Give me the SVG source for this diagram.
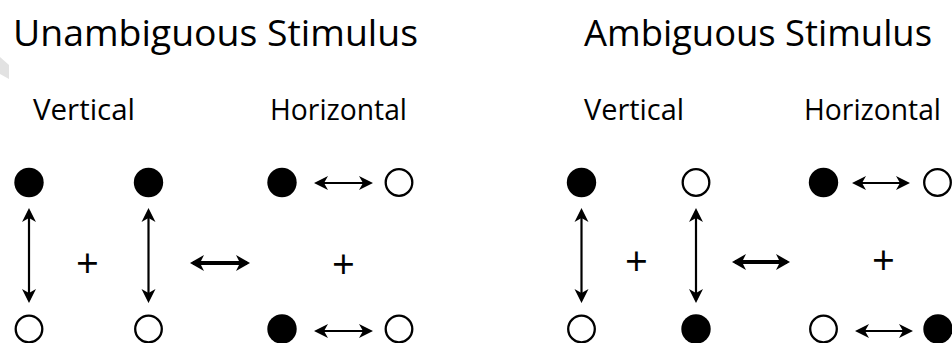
<svg xmlns="http://www.w3.org/2000/svg" width="952" height="343" viewBox="0 0 952 343">
  <style>
    text { font-variant-ligatures: none; font-feature-settings: "liga" 0; }
    .title { font-family: "Open Sans", "Noto Sans", sans-serif; font-size: 37px; fill: #000; }
    .label { font-family: "Open Sans", "Noto Sans", sans-serif; font-size: 30px; fill: #000; }
    .plus { font-family: "Open Sans", "Noto Sans", sans-serif; font-size: 40px; fill: #000; text-anchor: middle; }
    .on { fill: #000; }
    .off { fill: #fff; stroke: #000; stroke-width: 2.3; }
    .thin { stroke: #000; stroke-width: 2.2; fill: none; marker-start: url(#headThin); marker-end: url(#headThin); }
    .bold { stroke: #000; stroke-width: 4; fill: none; marker-start: url(#headBold); marker-end: url(#headBold); }
  </style>
  <defs>
    <marker id="headThin" markerUnits="userSpaceOnUse" markerWidth="30" markerHeight="30" viewBox="-15 -15 30 30" refX="0" refY="0" orient="auto-start-reverse" overflow="visible">
      <path d="M3,0 L-11,-7 L-7,0 L-11,7 Z" fill="#000"/>
    </marker>
    <marker id="headBold" markerUnits="userSpaceOnUse" markerWidth="30" markerHeight="30" viewBox="-15 -15 30 30" refX="0" refY="0" orient="auto-start-reverse" overflow="visible">
      <path d="M3,0 L-11,-8 L-7,0 L-11,8 Z" fill="#000"/>
    </marker>
  </defs>

  <rect width="952" height="343" fill="#fff"/>
  <!-- faint grey sliver at the left edge -->
  <polygon points="0,57 9,65 9,79 0,74" fill="#e2e2e2"/>

  <!-- headings -->
  <text class="title" x="13" y="46" textLength="405" lengthAdjust="spacingAndGlyphs">Unambiguous Stimulus</text>
  <text class="title" x="584" y="46" textLength="348" lengthAdjust="spacingAndGlyphs">Ambiguous Stimulus</text>
  <text class="label" x="33" y="120" textLength="102" lengthAdjust="spacingAndGlyphs">Vertical</text>
  <text class="label" x="270" y="120" textLength="137" lengthAdjust="spacingAndGlyphs">Horizontal</text>
  <text class="label" x="584" y="120" textLength="100" lengthAdjust="spacingAndGlyphs">Vertical</text>
  <text class="label" x="804" y="120" textLength="137" lengthAdjust="spacingAndGlyphs">Horizontal</text>

  <!-- unambiguous: dots -->
  <g id="u-v1-top"><circle class="on" cx="29" cy="182.5" r="14.7"/></g>
  <g id="u-v1-bottom"><circle class="off" cx="29" cy="329" r="13.3"/></g>
  <g id="u-v2-top"><circle class="on" cx="148.5" cy="182.5" r="14.7"/></g>
  <g id="u-v2-bottom"><circle class="off" cx="148.5" cy="329" r="13.3"/></g>
  <g id="u-h1-left"><circle class="on" cx="282" cy="182.5" r="14.7"/></g>
  <g id="u-h1-right"><circle class="off" cx="399" cy="182.5" r="13.3"/></g>
  <g id="u-h2-left"><circle class="on" cx="282" cy="329" r="14.7"/></g>
  <g id="u-h2-right"><circle class="off" cx="399" cy="329" r="13.3"/></g>

  <!-- ambiguous: dots -->
  <g id="a-v1-top"><circle class="on" cx="581.5" cy="182.5" r="14.7"/></g>
  <g id="a-v1-bottom"><circle class="off" cx="581.5" cy="329" r="13.3"/></g>
  <g id="a-v2-top"><circle class="off" cx="696" cy="182.5" r="13.3"/></g>
  <g id="a-v2-bottom"><circle class="on" cx="696" cy="329" r="14.7"/></g>
  <g id="a-h1-left"><circle class="on" cx="823.5" cy="182.5" r="14.7"/></g>
  <g id="a-h1-right"><circle class="off" cx="937.5" cy="182.5" r="13.3"/></g>
  <g id="a-h2-left"><circle class="off" cx="823.5" cy="329" r="13.3"/></g>
  <g id="a-h2-right"><circle class="on" cx="938" cy="329" r="14.7"/></g>

  <!-- plus signs -->
  <text class="plus" x="87.5" y="278">+</text>
  <text class="plus" x="343.5" y="279">+</text>
  <text class="plus" x="636.5" y="276">+</text>
  <text class="plus" x="883.5" y="275">+</text>

  <!-- connectors -->
  <g id="connectors">
    <line class="thin" x1="29" y1="211" x2="29" y2="300"/>
    <line class="thin" x1="148.5" y1="211" x2="148.5" y2="300"/>
    <line class="thin" x1="317" y1="183" x2="370" y2="183"/>
    <line class="thin" x1="317" y1="331" x2="370" y2="331"/>
    <line class="bold" x1="193" y1="263" x2="247" y2="263"/>

    <line class="thin" x1="581.5" y1="211" x2="581.5" y2="300"/>
    <line class="thin" x1="696" y1="211" x2="696" y2="300"/>
    <line class="thin" x1="855" y1="183" x2="907" y2="183"/>
    <line class="thin" x1="858" y1="331" x2="910" y2="331"/>
    <line class="bold" x1="735" y1="262" x2="787" y2="262"/>
  </g>
</svg>
